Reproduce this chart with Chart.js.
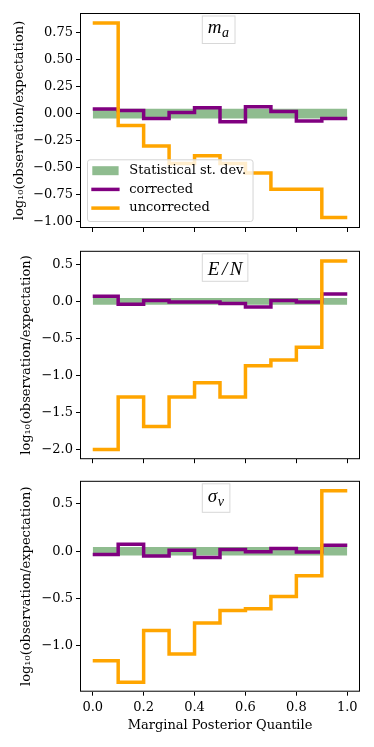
<!DOCTYPE html>
<html>
<head>
<meta charset="utf-8">
<script src="https://cdn.jsdelivr.net/npm/chart.js@4.4.1/dist/chart.umd.min.js"></script>
<style>
  body { margin: 0; background: #fff; }
  canvas { position: absolute; left: 0; }
</style>
</head>
<body>
<canvas id="c1" width="374" height="240" style="top:0px"></canvas>
<canvas id="c2" width="374" height="230" style="top:240px"></canvas>
<canvas id="c3" width="374" height="277" style="top:470px"></canvas>
<script>
// bin edges of the quantile histogram
const binEdges = [0.0, 0.1, 0.2, 0.3, 0.4, 0.5, 0.6, 0.7, 0.8, 0.9, 1.0];
const xTicks = [0.0, 0.2, 0.4, 0.6, 0.8, 1.0];

// m_a panel
const maCorrected = [0.043, 0.03, -0.045, 0.01, 0.055, -0.075, 0.065, 0.02, -0.068, -0.045];
const maUncorrected = [0.84, -0.11, -0.30, -0.46, -0.39, -0.46, -0.55, -0.70, -0.70, -0.96];
const maStdDev = 0.045;
const maTicks = [0.75, 0.5, 0.25, 0.0, -0.25, -0.5, -0.75, -1.0];

// E/N panel
const enCorrected = [0.07, -0.04, 0.013, -0.009, -0.009, -0.03, -0.075, 0.013, -0.009, 0.1];
const enUncorrected = [-2.0, -1.29, -1.69, -1.29, -1.10, -1.29, -0.87, -0.79, -0.62, 0.545];
const enStdDev = 0.045;
const enTicks = [0.5, 0.0, -0.5, -1.0, -1.5, -2.0];

// sigma_v panel
const svCorrected = [-0.035, 0.073, -0.052, 0.01, -0.067, 0.017, -0.007, 0.027, -0.01, 0.062];
const svUncorrected = [-1.16, -1.39, -0.84, -1.09, -0.76, -0.63, -0.61, -0.48, -0.26, 0.64];
const svStdDev = 0.045;
const svTicks = [0.5, 0.0, -0.5, -1.0];

const serif = 'DejaVu Serif';
const green = 'rgb(143,188,143)';
const purple = '#800080';
const orange = '#ffa500';
const lineW = 3.5;

// histogram step: point at left edge i carries bin i (last edge repeats the last bin)
const stepPoints = vals => binEdges.map((e, i) => ({ x: e, y: vals[Math.min(i, vals.length - 1)] }));

const framePlugin = {
  id: 'frame',
  afterDraw(chart) {
    const { ctx, chartArea: ca } = chart;
    ctx.save();
    ctx.strokeStyle = '#000';
    ctx.lineWidth = 1;
    ctx.strokeRect(ca.left + 0.5, ca.top + 0.5, ca.right - ca.left - 1, ca.bottom - ca.top - 1);

    // panel title box (math text)
    const t = chart.options.plugins.panelTitle;
    if (t) {
      const x0 = ca.left + 0.435 * (ca.right - ca.left);
      const top = ca.top + 2.5;
      ctx.font = 'italic 19px "Liberation Serif"';
      const chars = t.main.split('');
      const mainW = chars.map(c => ctx.measureText(c).width + t.spacing);
      const w = mainW.reduce((a, b) => a + b, 0) - t.spacing;
      const asc = ctx.measureText(t.main).actualBoundingBoxAscent;
      let desc = Math.max(ctx.measureText(t.main).actualBoundingBoxDescent, 0);
      let subW = 0;
      if (t.sub) {
        ctx.font = 'italic 14px "Liberation Serif"';
        subW = ctx.measureText(t.sub).width + 1;
        desc = Math.max(desc, 4 + ctx.measureText(t.sub).actualBoundingBoxDescent);
      }
      const pad = 6;
      const bw = w + subW + 2 * pad;
      const bh = 8.5 + asc + desc + 7;
      ctx.fillStyle = 'rgba(255,255,255,0.85)';
      ctx.fillRect(x0, top, bw, bh);
      ctx.strokeStyle = '#d8d8d8';
      ctx.strokeRect(x0 + 0.5, top + 0.5, bw - 1, bh - 1);
      const base = top + 8.5 + asc;
      ctx.fillStyle = '#000';
      ctx.font = 'italic 19px "Liberation Serif"';
      let cx = x0 + pad;
      chars.forEach((c, i) => { ctx.fillText(c, cx, base); cx += mainW[i]; });
      if (t.sub) {
        ctx.font = 'italic 14px "Liberation Serif"';
        ctx.fillText(t.sub, cx + 0.5 - t.spacing, base + 4);
      }
    }

    // legend inside the axes, lower left
    if (chart.options.plugins.innerLegend) {
      const items = chart.data.datasets.slice().reverse();
      ctx.font = '13px "' + serif + '"';
      const textW = Math.max(...items.map(d => ctx.measureText(d.label).width));
      const lx = ca.left + 7;
      const bh = 61.7;
      const ly = ca.bottom - 7 - bh;
      const bw = 5.3 + 26.3 + 10.7 + textW + 6.5;
      ctx.fillStyle = 'rgba(255,255,255,0.8)';
      ctx.strokeStyle = '#d4d4d4';
      ctx.beginPath();
      ctx.roundRect(lx + 0.5, ly + 0.5, bw, bh, 2.5);
      ctx.fill();
      ctx.stroke();
      items.forEach((d, i) => {
        const cy = ly + 11.4 + i * 18.7;
        const hx = lx + 5.3;
        if (d.fill) {
          ctx.fillStyle = d.backgroundColor;
          ctx.fillRect(hx, cy - 4.5, 26.3, 9);
        } else {
          ctx.strokeStyle = d.borderColor;
          ctx.lineWidth = lineW;
          ctx.beginPath();
          ctx.moveTo(hx - 1, cy);
          ctx.lineTo(hx + 27.3, cy);
          ctx.stroke();
        }
        ctx.fillStyle = '#000';
        ctx.textBaseline = 'middle';
        ctx.fillText(d.label, hx + 26.3 + 10.7, cy);
      });
    }
    ctx.restore();
  }
};

function makePanel(id, cfg) {
  const fmt = v => v.toFixed(cfg.decimals).replace('-', '\u2212');
  return new Chart(document.getElementById(id), {
    type: 'line',
    data: {
      datasets: [
        { label: 'uncorrected', data: stepPoints(cfg.uncorrected), stepped: 'before',
          borderColor: orange, borderWidth: lineW, pointRadius: 0, fill: false, order: 1 },
        { label: 'corrected', data: stepPoints(cfg.corrected), stepped: 'before',
          borderColor: purple, borderWidth: lineW, pointRadius: 0, fill: false, order: 2 },
        { label: 'Statistical st. dev.', data: binEdges.map(e => ({ x: e, y: cfg.stdDev })),
          borderColor: 'rgba(0,0,0,0)', borderWidth: 0, backgroundColor: green,
          pointRadius: 0, fill: { value: -cfg.stdDev }, order: 3 }
      ]
    },
    options: {
      responsive: false,
      animation: false,
      layout: { padding: { top: cfg.padTop, right: 14, left: 0, bottom: 0 } },
      plugins: {
        legend: { display: false },
        tooltip: { enabled: false },
        panelTitle: cfg.title,
        innerLegend: cfg.legend
      },
      scales: {
        x: {
          type: 'linear', min: -0.05, max: 1.05,
          afterBuildTicks: s => { s.ticks = xTicks.map(v => ({ value: v })); },
          afterFit: s => { s.height = cfg.xHeight; },
          ticks: { display: cfg.showX, autoSkip: false, maxRotation: 0, padding: 4, color: '#000',
                   font: { family: serif, size: 13 }, callback: v => v.toFixed(1) },
          grid: { display: true, drawOnChartArea: false, drawTicks: true, tickLength: 4, color: '#000' },
          border: { display: false },
          title: { display: cfg.showX, text: 'Marginal Posterior Quantile', color: '#000',
                   font: { family: serif, size: 13 }, padding: { top: 0, bottom: 14 } }
        },
        y: {
          type: 'linear', min: cfg.yMin, max: cfg.yMax,
          afterBuildTicks: s => { s.ticks = cfg.yTicks.map(v => ({ value: v })); },
          afterFit: s => { s.width = 80; },
          ticks: { padding: 3, color: '#000', font: { family: serif, size: 13 }, callback: fmt },
          grid: { display: true, drawOnChartArea: false, drawTicks: true, tickLength: 4, color: '#000' },
          border: { display: false },
          title: { display: true, text: 'log\u2081\u2080(observation/expectation)', color: '#000',
                   font: { family: serif, size: 13 }, padding: { top: cfg.yTitlePad, bottom: 0 } }
        }
      }
    },
    plugins: [framePlugin]
  });
}

makePanel('c1', {
  corrected: maCorrected, uncorrected: maUncorrected, stdDev: maStdDev, yTicks: maTicks,
  yMin: -1.058, yMax: 0.932, decimals: 2, padTop: 13, xHeight: 12, showX: false,
  yTitlePad: 12, title: { main: 'm', sub: 'a', spacing: 0 }, legend: true
});
makePanel('c2', {
  corrected: enCorrected, uncorrected: enUncorrected, stdDev: enStdDev, yTicks: enTicks,
  yMin: -2.131, yMax: 0.683, decimals: 1, padTop: 5, xHeight: 10, showX: false,
  yTitlePad: 19, title: { main: 'E/N', sub: null, spacing: 2.5 }, legend: false
});
makePanel('c3', {
  corrected: svCorrected, uncorrected: svUncorrected, stdDev: svStdDev, yTicks: svTicks,
  yMin: -1.489, yMax: 0.745, decimals: 1, padTop: 8.3, xHeight: 55.3, showX: true,
  yTitlePad: 19, title: { main: '\u03c3', sub: 'v', spacing: 0 }, legend: false
});
</script>
</body>
</html>
